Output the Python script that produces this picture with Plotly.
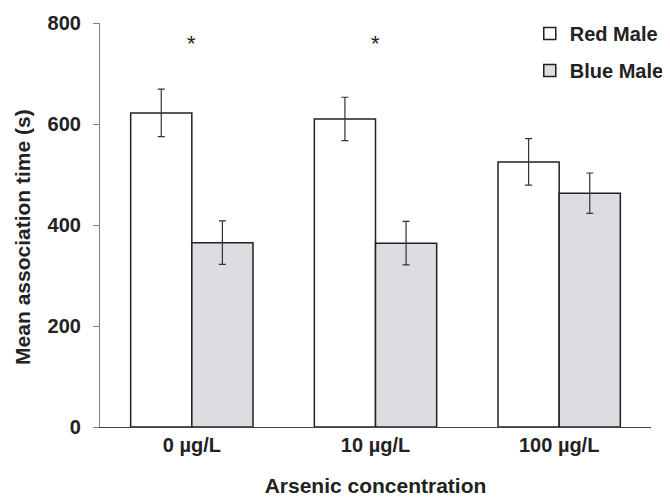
import plotly.graph_objects as go

categories = ["0 µg/L", "10 µg/L", "100 µg/L"]
red_male = [622, 610, 525]
red_err = [47, 43, 46]
blue_male = [365, 364, 463]
blue_err = [43, 43, 40]
sig_labels = ["*", "*", ""]
sig_y = [759, 759, None]

font_family = "Liberation Sans, Arial, sans-serif"
ink = "#222222"

fig = go.Figure()
fig.add_trace(go.Bar(
    name="Red Male", x=categories, y=red_male, legendgroup="r",
    marker=dict(color="white", line=dict(color=ink, width=1.5)),
    error_y=dict(type="data", array=red_err, color="#333333", thickness=1.2, width=3.5),
))
fig.add_trace(go.Bar(
    name="Blue Male", x=categories, y=blue_male, legendgroup="b",
    marker=dict(color="#dcdde0", line=dict(color=ink, width=1.5)),
    error_y=dict(type="data", array=blue_err, color="#333333", thickness=1.2, width=3.5),
))

for c, s, yy in zip(categories, sig_labels, sig_y):
    if s:
        fig.add_annotation(x=c, y=yy, text=s, showarrow=False,
                           font=dict(size=22, color=ink, family=font_family))

# y-axis title (placed as a rotated annotation to match the reference position)
fig.add_annotation(
    text="Mean association time (s)", textangle=-90, showarrow=False,
    xref="paper", yref="paper", x=-0.142, y=0.470, xanchor="center", yanchor="middle",
    font=dict(size=21, family=font_family, color=ink, weight="bold"),
)

# page body has an 8px margin, so the figure is offset by 8px right and down
fig.update_layout(
    width=662, height=489,
    margin=dict(l=92, r=19, t=15, b=70, autoexpand=False),
    barmode="group", bargap=0.334, bargroupgap=0,
    plot_bgcolor="white", paper_bgcolor="white",
    font=dict(family=font_family, color=ink),
    showlegend=True,
    legend=dict(x=0.78, y=1.0 - 6 / 489, xanchor="left", yanchor="top", yref="container",
                traceorder="grouped", tracegroupgap=8,
                font=dict(size=20, family=font_family, color=ink, weight="bold"),
                bgcolor="rgba(0,0,0,0)"),
    xaxis=dict(
        range=[-0.5, 2.5], showline=True, linecolor="#444444", linewidth=1.3,
        ticks="", showgrid=False, zeroline=False, automargin=False,
        ticklabelstandoff=0,
        tickfont=dict(size=20, family=font_family, color=ink, weight="bold"),
        title=dict(text="Arsenic concentration", standoff=40,
                   font=dict(size=21, family=font_family, color=ink, weight="bold")),
    ),
    yaxis=dict(
        range=[0, 800], tickvals=[0, 200, 400, 600, 800],
        showline=True, linecolor="#808080", linewidth=1.2,
        ticks="outside", ticklen=6, tickcolor="#808080",
        showgrid=False, zeroline=False, automargin=False,
        ticklabelstandoff=8,
        tickfont=dict(size=20, family=font_family, color=ink, weight="bold"),
    ),
)

fig.write_html("out.html")
